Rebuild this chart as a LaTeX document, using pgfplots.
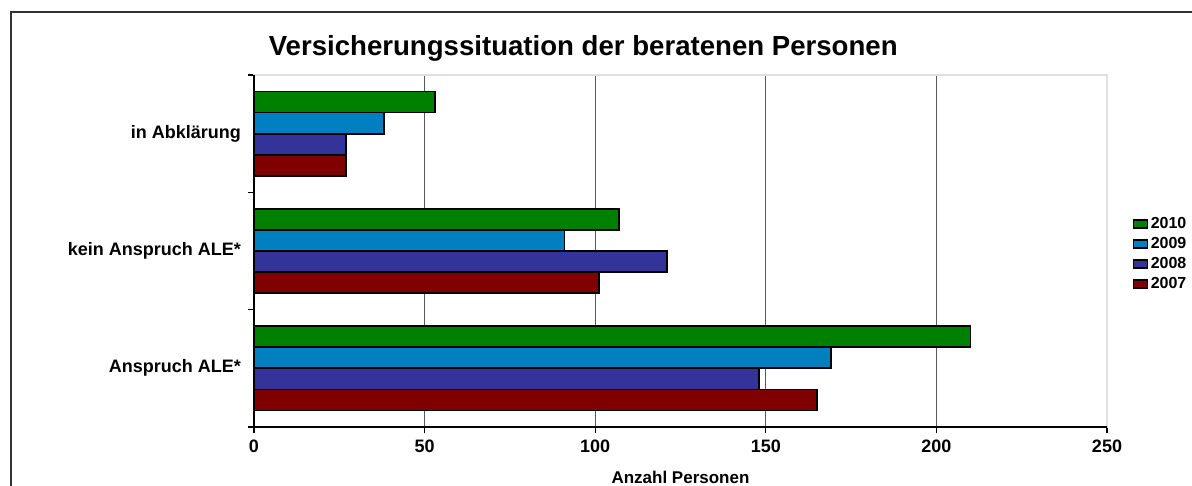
\documentclass[border=0pt]{standalone}
\usepackage{pgfplots}
\pgfplotsset{compat=1.18}
\usepackage{fontspec}
\setmainfont{Liberation Sans}
\definecolor{cGreen}{RGB}{0,128,0}
\definecolor{cBlue}{RGB}{0,128,192}
\definecolor{cPurple}{RGB}{51,51,153}
\definecolor{cRed}{RGB}{128,0,0}
\begin{document}
\begin{tikzpicture}
\path[use as bounding box] (-127pt,-29.5pt) rectangle (469pt,213.5pt);
\draw[black!80,line width=0.8pt] (-121.5pt,-40pt) -- (-121.5pt,207.5pt) -- (480pt,207.5pt);
\begin{axis}[
  at={(0,0)}, anchor=south west,
  scale only axis, width=426.5pt, height=176pt,
  xbar, bar width=0.18,
  xmin=0, xmax=250, ymin=-0.5, ymax=2.5,
  xtick={0,50,...,250},
  ytick={0,1,2},
  yticklabels={Anspruch ALE*, kein Anspruch ALE*, in Abklärung},
  minor ytick={-0.5,0.5,1.5,2.5},
  major y tick style={draw=none},
  tick align=outside, xtick pos=bottom, ytick pos=left,
  major tick length=3pt, minor tick length=3pt,
  tick style={black, line width=0.6pt},
  xmajorgrids, grid style={black!65, line width=0.55pt},
  axis line style={black!12, line width=0.8pt},
  /pgf/number format/assume math mode=true,
  ticklabel style={font=\fontsize{9}{10}\selectfont\bfseries},
  xlabel={Anzahl Personen},
  xlabel style={font=\fontsize{8.5}{10}\selectfont\bfseries, yshift=-2.5pt},
  title={Versicherungssituation der beratenen Personen},
  title style={at={(0.386,1.042)}, anchor=center, font=\fontsize{13.8}{15}\selectfont\bfseries},
  legend style={at={(1.03,0.4915)}, anchor=west, draw=none, fill=none,
    font=\fontsize{8}{9}\selectfont\bfseries, row sep=-1.1pt, inner sep=0pt,
    nodes={inner xsep=1.5pt}},
  legend cell align=left,
  legend image code/.code={\draw[#1,/tikz/.cd,line width=0.6pt,draw=black] (0pt,-2pt) rectangle (6.8pt,2pt);},
  clip=false,
]
\addplot[fill=cGreen, draw=black, line width=0.9pt, bar shift=0.27] coordinates {(210,0) (107,1) (53,2)};
\addplot[fill=cBlue, draw=black, line width=0.9pt, bar shift=0.09] coordinates {(169,0) (91,1) (38,2)};
\addplot[fill=cPurple, draw=black, line width=0.9pt, bar shift=-0.09] coordinates {(148,0) (121,1) (27,2)};
\addplot[fill=cRed, draw=black, line width=0.9pt, bar shift=-0.27] coordinates {(165,0) (101,1) (27,2)};
\legend{2010,2009,2008,2007}
\draw[black, line width=0.8pt] (rel axis cs:0,1) -- (rel axis cs:0,0) -- (rel axis cs:1,0);
\end{axis}
\end{tikzpicture}
\end{document}
